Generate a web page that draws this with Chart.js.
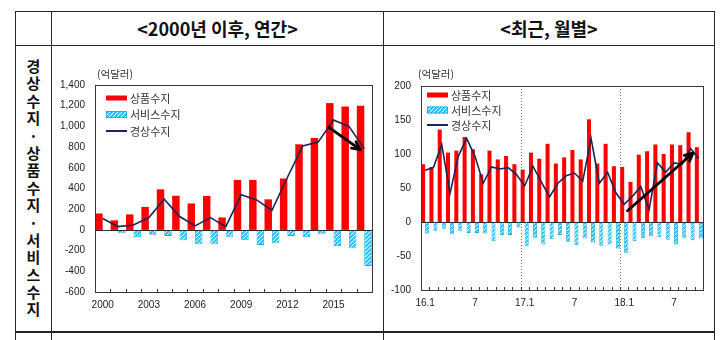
<!DOCTYPE html>
<html><head><meta charset="utf-8">
<script src="https://cdn.jsdelivr.net/npm/chart.js@4.4.0/dist/chart.umd.min.js"></script>
<style>
html,body{margin:0;padding:0;background:#fff;width:725px;height:340px;overflow:hidden;}
.ln{position:absolute;background:#262626;}
.hd{position:absolute;top:11px;height:34px;line-height:34px;text-align:center;font-family:'Noto Sans CJK KR',sans-serif;font-weight:700;font-size:18px;color:#111;}
#side{position:absolute;left:15px;width:37px;top:57px;text-align:center;font-family:'Noto Sans CJK KR',sans-serif;font-weight:700;font-size:15px;color:#111;}
#side span{display:block;height:17.4px;line-height:17.4px;}
canvas{position:absolute;}
</style></head><body>
<div class="ln" style="left:15px;top:11px;width:700px;height:1px"></div>
<div class="ln" style="left:15px;top:45px;width:700px;height:1px"></div>
<div class="ln" style="left:15px;top:331px;width:700px;height:2px"></div>
<div class="ln" style="left:15px;top:11px;width:1px;height:329px"></div>
<div class="ln" style="left:51px;top:11px;width:1px;height:329px"></div>
<div class="ln" style="left:383px;top:11px;width:1px;height:329px"></div>
<div class="ln" style="left:714px;top:11px;width:1px;height:329px"></div>
<div class="hd" style="left:52px;width:331px">&lt;2000년 이후, 연간&gt;</div>
<div class="hd" style="left:384px;width:330px">&lt;최근, 월별&gt;</div>
<div id="side"><span>경</span><span>상</span><span>수</span><span>지</span><span>·</span><span>상</span><span>품</span><span>수</span><span>지</span><span>·</span><span>서</span><span>비</span><span>스</span><span>수</span><span>지</span></div>
<canvas id="c1" width="330" height="285" style="left:52px;top:46px"></canvas>
<canvas id="c2" width="329" height="285" style="left:384px;top:46px"></canvas>
<script>
// ---- data: annual ----
const years = ['2000','2001','2002','2003','2004','2005','2006','2007','2008','2009','2010','2011','2012','2013','2014','2015','2016','2017'];
const yearTicks = ['2000','2003','2006','2009','2012','2015'];
const goodsAnnual = [158, 92, 150, 222, 392, 330, 255, 328, 120, 482, 482, 295, 497, 827, 889, 1225, 1192, 1200];
const servicesAnnual = [-8, -32, -68, -48, -58, -100, -139, -139, -65, -97, -145, -129, -58, -68, -42, -155, -177, -348];
const currentAnnual = [110, 32, 48, 119, 297, 129, 39, 119, 32, 339, 290, 190, 506, 812, 848, 1062, 1000, 785];
// ---- data: monthly ----
const months = ['16.1','16.2','16.3','16.4','16.5','16.6','16.7','16.8','16.9','16.10','16.11','16.12',
                '17.1','17.2','17.3','17.4','17.5','17.6','17.7','17.8','17.9','17.10','17.11','17.12',
                '18.1','18.2','18.3','18.4','18.5','18.6','18.7','18.8','18.9','18.10'];
const monthTicks = ['16.1','16.7','17.1','17.7','18.1','18.7'];
const monthTickText = ['16.1','7','17.1','7','18.1','7'];
const goodsMonthly = [85, 81, 136, 102, 105, 125, 107, 70, 105, 92, 97, 85,
                      77, 102, 93, 115, 86, 95, 106, 92, 151, 86, 115, 82,
                      81, 59, 99, 104, 114, 100, 114, 113, 132, 110];
const servicesMonthly = [-17, -13, -10, -18, -13, -16, -16, -17, -28, -19, -19, -8,
                         -35, -23, -33, -25, -19, -29, -34, -24, -30, -35, -33, -39,
                         -46, -28, -24, -21, -22, -26, -33, -23, -27, -24];
const currentMonthly = [76, 80, 114, 42, 97, 123, 97, 57, 81, 78, 80, 70,
                        53, 82, 59, 37, 57, 68, 72, 60, 123, 57, 73, 43,
                        26, 38, 52, 18, 87, 73, 87, 85, 108, 93];
const unitLabel = '(억달러)';
const seriesNames = ['상품수지','서비스수지','경상수지'];

const TICK_FONT = "'Liberation Sans Narrow','Arial Narrow','Liberation Sans',Arial,sans-serif";
const KR_FONT = "'Noto Sans CJK KR',sans-serif";

function hatch(){
  const c=document.createElement('canvas'); c.width=4; c.height=4;
  const x=c.getContext('2d');
  x.fillStyle='#3fc0ee'; x.fillRect(0,0,4,4);
  x.strokeStyle='#ffffff'; x.lineWidth=1;
  x.beginPath();
  x.moveTo(0,4); x.lineTo(4,0);
  x.moveTo(-1,1); x.lineTo(1,-1);
  x.moveTo(3,5); x.lineTo(5,3);
  x.stroke();
  return x.createPattern(c,'repeat');
}

function fracX(xs, f){
  const p0 = xs.getPixelForValue(0), p1 = xs.getPixelForValue(1);
  return p0 + f*(p1-p0);
}

const framePlugin = {
  id:'frame',
  beforeDatasetsDraw(chart, args, o){
    const {ctx, chartArea:a, scales:{x:xs}} = chart;
    ctx.save();
    if (o.dividers){
      ctx.strokeStyle='#777'; ctx.lineWidth=1; ctx.setLineDash([1,2]);
      o.dividers.forEach(i=>{
        const px = Math.round((xs.getPixelForValue(i-1)+xs.getPixelForValue(i))/2)+0.5;
        ctx.beginPath(); ctx.moveTo(px,a.top); ctx.lineTo(px,a.bottom); ctx.stroke();
      });
    }
    ctx.restore();
  },
  afterDatasetsDraw(chart, args, o){
    const {ctx, chartArea:a, scales:{x:xs, y:ys}} = chart;
    ctx.save();
    // zero line
    const y0 = Math.round(ys.getPixelForValue(0))+0.5;
    ctx.strokeStyle='#2a2a3a'; ctx.lineWidth=1;
    ctx.beginPath(); ctx.moveTo(a.left,y0); ctx.lineTo(a.right,y0); ctx.stroke();
    // frame
    ctx.strokeStyle='#3a3a3a'; ctx.lineWidth=1;
    ctx.strokeRect(Math.round(a.left)+0.5, Math.round(a.top)+0.5, Math.round(a.right-a.left), Math.round(a.bottom-a.top));
    // bottom tick marks
    const n = chart.data.labels.length;
    ctx.beginPath();
    for (let i=0;i<=n;i++){
      const px = Math.round(i===0? a.left : i===n ? a.right : (xs.getPixelForValue(i-1)+xs.getPixelForValue(i))/2)+0.5;
      ctx.moveTo(px, a.bottom); ctx.lineTo(px, a.bottom-3);
    }
    ctx.stroke();
    // unit label
    ctx.fillStyle='#333'; ctx.font='10.5px '+KR_FONT; ctx.textAlign='left'; ctx.textBaseline='middle';
    ctx.fillText(unitLabel, o.unitX, o.unitY);
    // legend
    const L = o.legend;
    const ds = chart.data.datasets;
    seriesNames.forEach((name, k)=>{
      const d = ds.find(s=>s.label===name);
      const yy = L.y + k*L.dy;
      if (d.type==='line'){
        ctx.strokeStyle=d.borderColor; ctx.lineWidth=2;
        ctx.beginPath(); ctx.moveTo(L.x, yy); ctx.lineTo(L.x+L.w, yy); ctx.stroke();
      } else {
        const h = k===0?5:7;
        ctx.fillStyle=d.backgroundColor; ctx.fillRect(L.x, yy-h/2, L.w, h);
        if (k===1){ ctx.strokeStyle=d.borderColor; ctx.lineWidth=0.8; ctx.strokeRect(L.x+0.5, yy-h/2+0.5, L.w-1, h-1); }
      }
      ctx.fillStyle='#333'; ctx.font='11px '+KR_FONT; ctx.textBaseline='middle';
      ctx.fillText(name, L.x+L.w+3, yy+0.5);
    });
    // arrow
    if (o.arrow){
      const [f1,v1,f2,v2] = o.arrow;
      const x1=fracX(xs,f1), y1=ys.getPixelForValue(v1), x2=fracX(xs,f2), y2=ys.getPixelForValue(v2);
      const ang=Math.atan2(y2-y1,x2-x1), hl=9;
      ctx.strokeStyle='#000'; ctx.lineWidth=2.8; ctx.lineCap='round'; ctx.lineJoin='round';
      ctx.beginPath(); ctx.moveTo(x1,y1); ctx.lineTo(x2,y2); ctx.stroke();
      ctx.beginPath();
      ctx.moveTo(x2-hl*Math.cos(ang-0.45), y2-hl*Math.sin(ang-0.45));
      ctx.lineTo(x2,y2);
      ctx.lineTo(x2-hl*Math.cos(ang+0.45), y2-hl*Math.sin(ang+0.45));
      ctx.stroke();
    }
    ctx.restore();
  }
};

function makeChart(id, labels, goods, services, current, cfg){
  const bh = hatch();
  return new Chart(document.getElementById(id), {
    type:'bar',
    data:{labels, datasets:[
      {type:'line', label:seriesNames[2], data:current, borderColor:'#1d2459', borderWidth:1.6, pointRadius:0, tension:0, order:0},
      {label:seriesNames[0], data:goods, backgroundColor:'#ff0000', order:1, categoryPercentage:cfg.cat, barPercentage:1},
      {label:seriesNames[1], data:services, backgroundColor:bh, borderColor:'#1fa4d8', borderWidth:0.8, order:2, categoryPercentage:cfg.cat, barPercentage:1}
    ]},
    options:{
      responsive:false, animation:false, events:[],
      layout:{padding:{left:0,right:cfg.padR,top:cfg.padT,bottom:0}},
      plugins:{legend:{display:false}, tooltip:{enabled:false}, frame:cfg.frame},
      scales:{
        x:{grid:{display:false, drawTicks:false}, border:{display:false},
           ticks:{autoSkip:false, maxRotation:0, minRotation:0, padding:cfg.xPad, color:'#222', font:{family:TICK_FONT, size:10},
                  callback(v){ return cfg.tickText(this.getLabelForValue(v)); }},
           afterFit(s){ s.height = cfg.xH; }},
        y:{min:cfg.min, max:cfg.max, grid:{display:false, drawTicks:false}, border:{display:false},
           ticks:{stepSize:cfg.step, padding:10, color:'#222', font:{family:TICK_FONT, size:10},
                  callback(v){ return v.toLocaleString('en-US'); }},
           afterFit(s){ s.width = cfg.yW; }}
      }
    },
    plugins:[framePlugin]
  });
}

makeChart('c1', years, goodsAnnual, servicesAnnual, currentAnnual, {
  cat:0.97, padR:10, padT:39, xH:39, yW:43, xPad:7, min:-600, max:1400, step:200,
  tickText:(lab)=> yearTicks.includes(lab) ? lab : '',
  frame:{unitX:45, unitY:28, legend:{x:54, y:52, dy:16.5, w:21}, arrow:[14.7, 990, 16.74, 775]}
});
makeChart('c2', months, goodsMonthly, servicesMonthly, currentMonthly, {
  cat:0.97, padR:10, padT:40, xH:41, yW:37, xPad:7, min:-100, max:200, step:50,
  tickText:(lab)=>{ const k=monthTicks.indexOf(lab); return k>=0 ? monthTickText[k] : ''; },
  frame:{unitX:34, unitY:28, dividers:[12,24], legend:{x:43, y:49, dy:15, w:21}, arrow:[24.4, 16.5, 32.3, 101.5]}
});
</script>
</body></html>
